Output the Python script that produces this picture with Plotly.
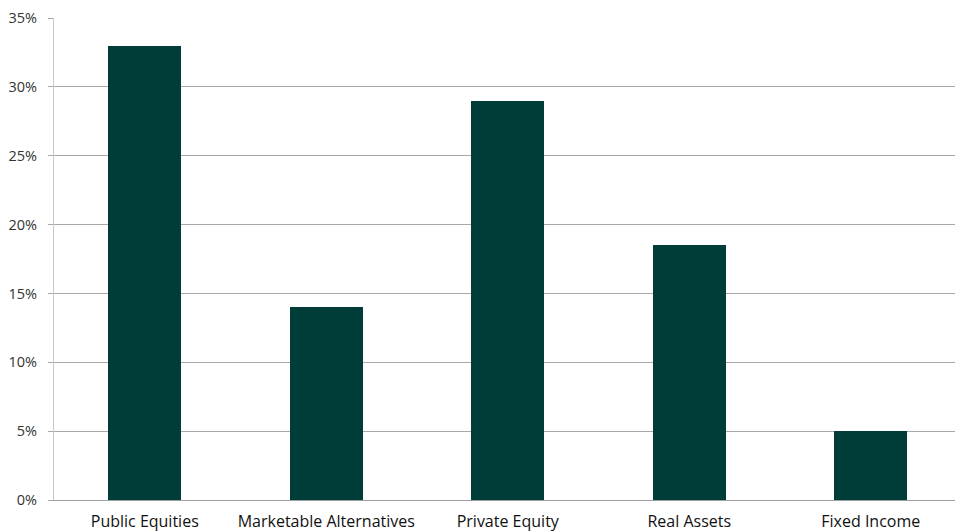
import plotly.graph_objects as go

categories = ["Public Equities", "Marketable Alternatives", "Private Equity", "Real Assets", "Fixed Income"]
allocation = [0.33, 0.14, 0.29, 0.185, 0.05]
y_ticks = [0, 0.05, 0.10, 0.15, 0.20, 0.25, 0.30, 0.35]
y_tick_labels = ["0%", "5%", "10%", "15%", "20%", "25%", "30%", "35%"]

bar_color = "#003D38"
font_family = "Open Sans, Liberation Sans, sans-serif"

fig = go.Figure(
    go.Bar(
        x=list(range(len(categories))),
        y=allocation,
        marker=dict(color=bar_color, line=dict(width=0)),
        width=0.4,
        hoverinfo="skip",
    )
)

fig.update_layout(
    width=955,
    height=531,
    margin=dict(l=54, r=0, t=18, b=31),
    paper_bgcolor="white",
    plot_bgcolor="white",
    showlegend=False,
    font=dict(family=font_family, size=14, color="#111111"),
    bargap=0,
)

fig.update_xaxes(
    tickmode="array",
    tickvals=list(range(len(categories))),
    ticktext=categories,
    range=[-0.5, 4.464],
    showgrid=False,
    showline=True,
    linecolor="#a0a0a0",
    linewidth=1,
    ticks="",
    tickfont=dict(size=16, color="#111111"),
    ticklabelstandoff=7,
    automargin=False,
    zeroline=False,
)

fig.update_yaxes(
    range=[0, 0.35],
    tickmode="array",
    tickvals=y_ticks,
    ticktext=y_tick_labels,
    showgrid=True,
    gridcolor="#a8a8a8",
    gridwidth=1,
    showline=True,
    linecolor="#c8c8c8",
    linewidth=1,
    ticks="outside",
    ticklen=5,
    tickcolor="#a8a8a8",
    tickfont=dict(size=14.5, color="#333333"),
    ticklabelstandoff=8,
    automargin=False,
    zeroline=False,
)

fig.write_html("out.html")
